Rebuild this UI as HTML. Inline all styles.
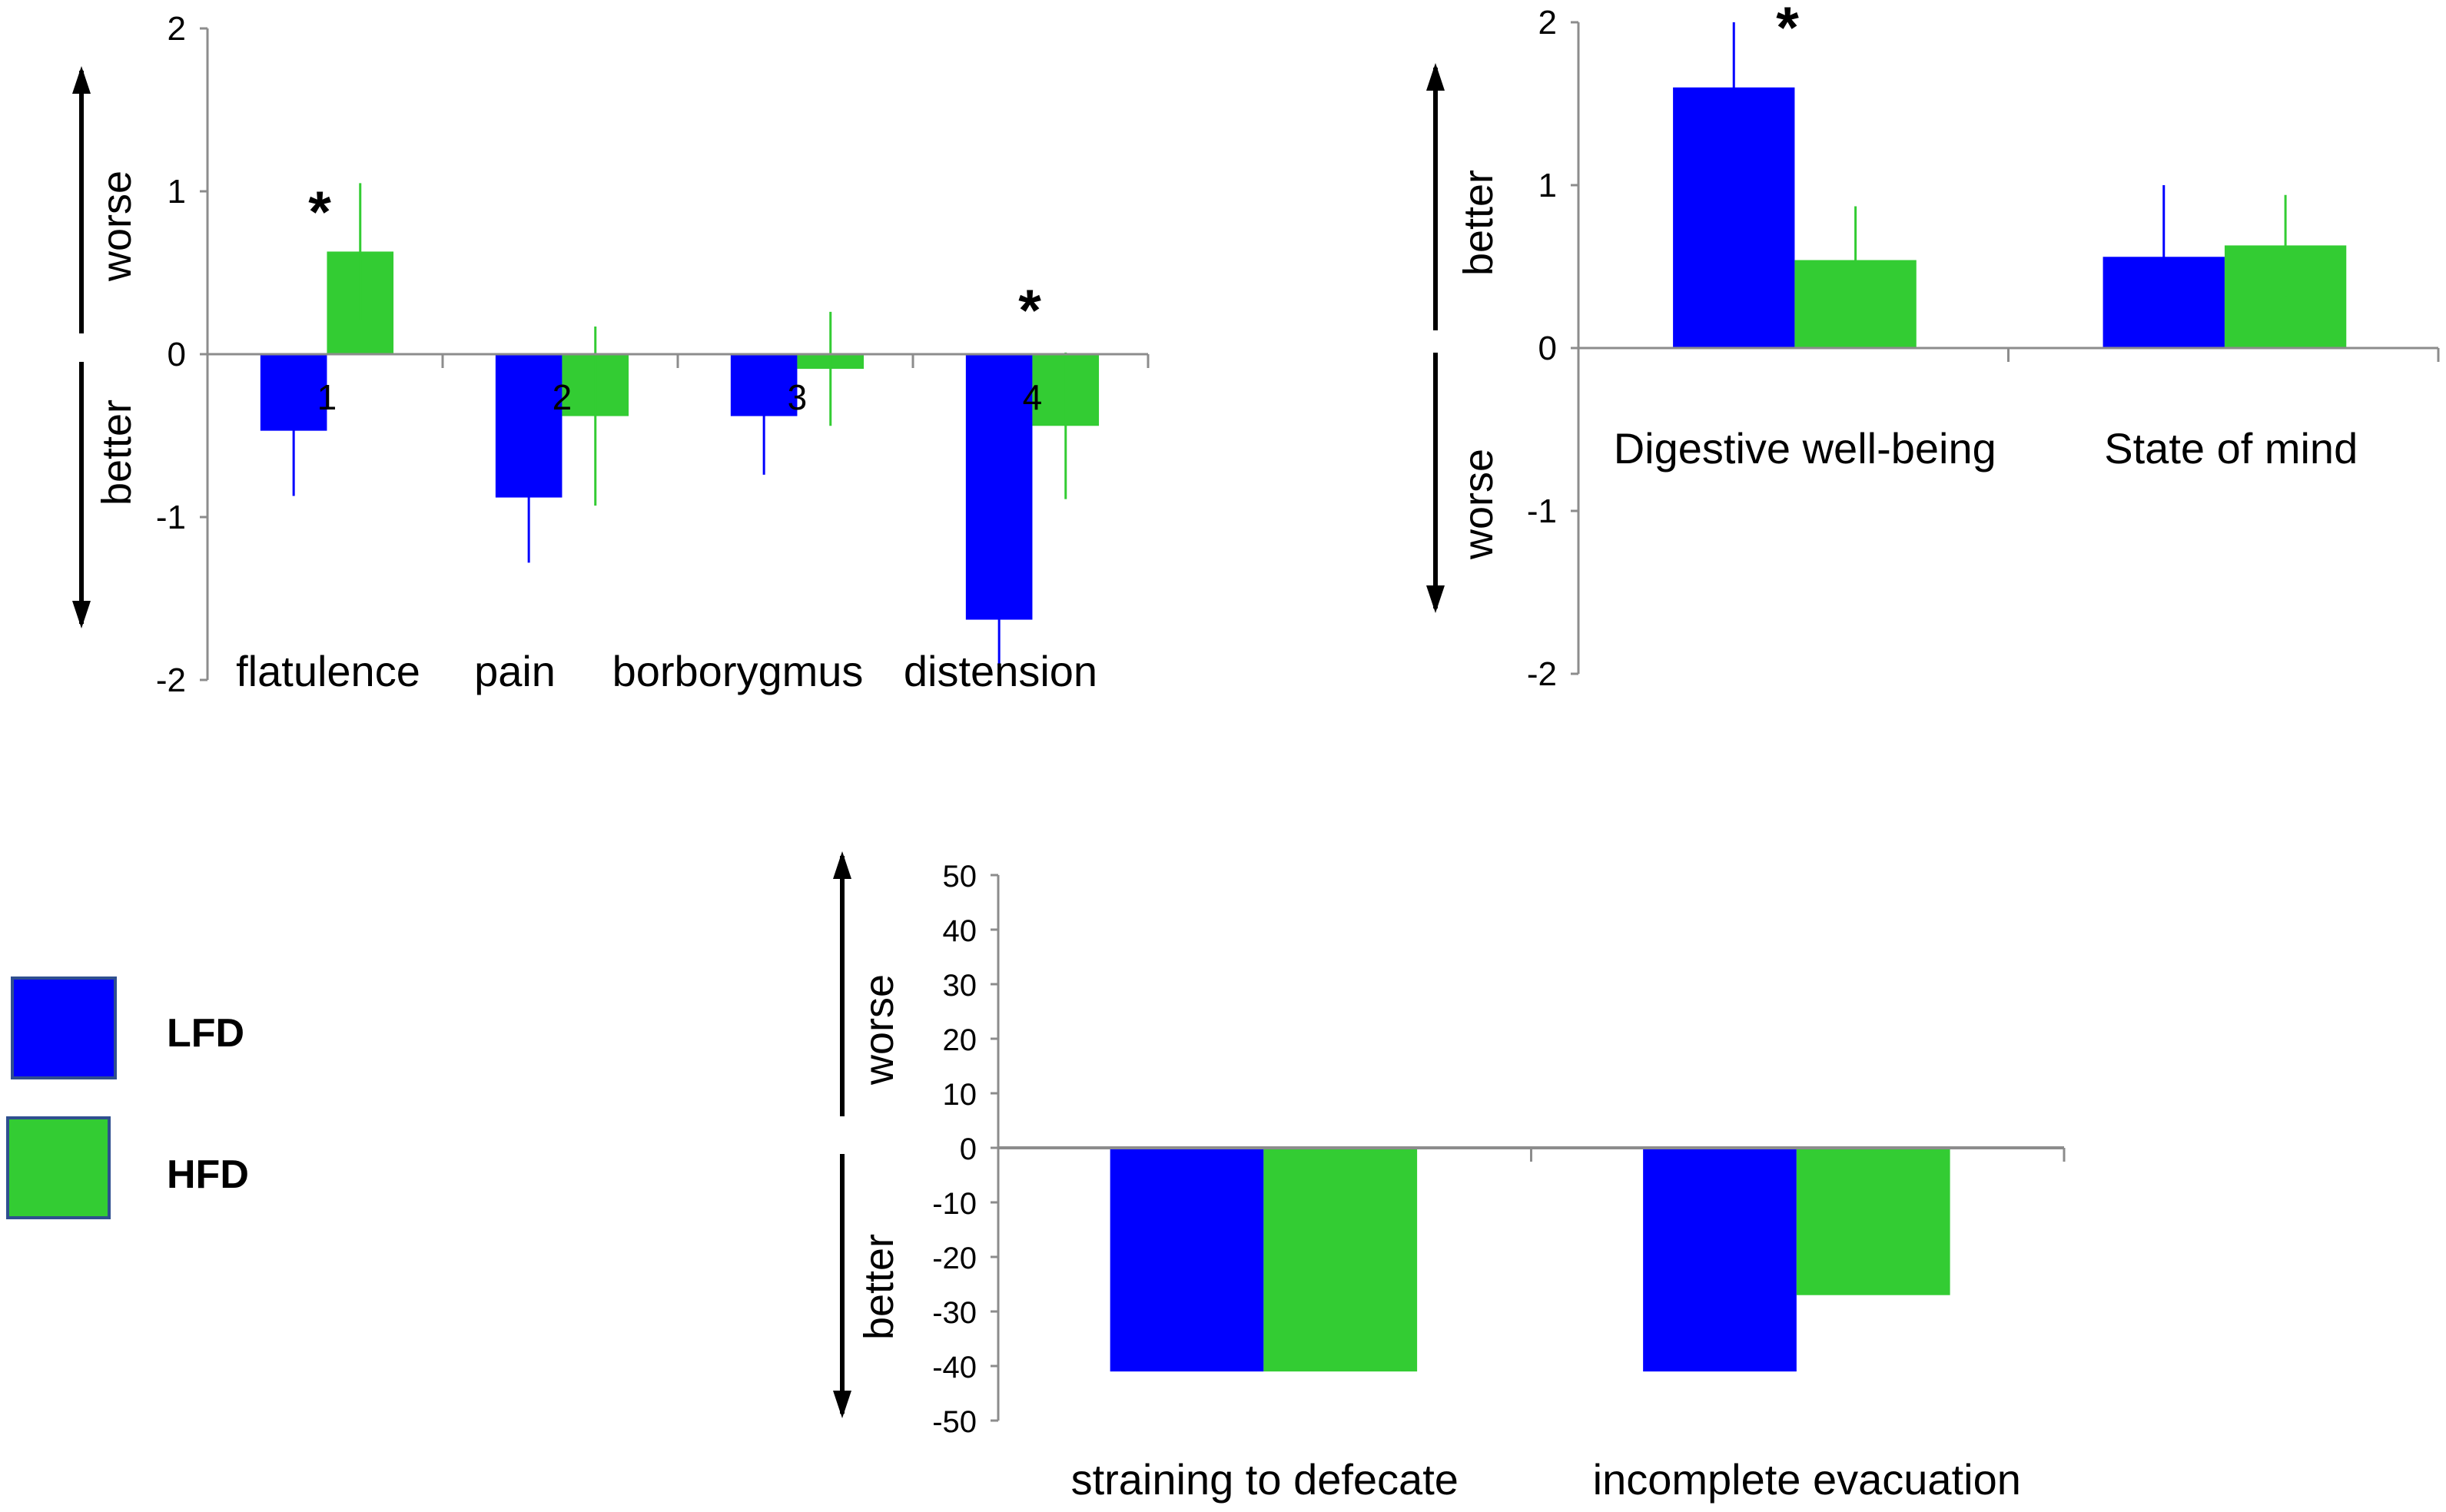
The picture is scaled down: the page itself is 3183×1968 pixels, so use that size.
<!DOCTYPE html>
<html><head><meta charset="utf-8">
<style>
html,body{margin:0;padding:0;background:#fff;}
svg{display:block;font-family:"Liberation Sans",Arial,sans-serif;}
</style></head>
<body>
<svg id="fig" width="3183" height="1968" viewBox="0 0 3183 1968" xmlns="http://www.w3.org/2000/svg">
<defs>
<marker id="ah" markerWidth="36" markerHeight="24" refX="30" refY="12" orient="auto" markerUnits="userSpaceOnUse" viewBox="0 0 36 24">
<path d="M0,0 L36,12 L0,24 z" fill="#000"/>
</marker>
</defs>
</svg>
<script>
// Chart 1 data
const c1Categories = ["flatulence","pain","borborygmus","distension"];
const c1Numbers = ["1","2","3","4"];
const c1LFD = [-0.47,-0.88,-0.38,-1.63];
const c1LFDErr = [0.40,0.40,0.36,0.37];
const c1HFD = [0.63,-0.38,-0.09,-0.44];
const c1HFDErr = [0.42,0.55,0.35,0.45];
const c1Ticks = [2,1,0,-1,-2];
// Chart 2 data
const c2Categories = ["Digestive well-being","State of mind"];
const c2LFD = [1.6,0.56];
const c2LFDErr = [0.40,0.44];
const c2HFD = [0.54,0.63];
const c2HFDErr = [0.33,0.31];
const c2Ticks = [2,1,0,-1,-2];
// Chart 3 data
const c3Categories = ["straining to defecate","incomplete evacuation"];
const c3LFD = [-41,-41];
const c3HFD = [-41,-27];
const c3Ticks = [50,40,30,20,10,0,-10,-20,-30,-40,-50];

const NS="http://www.w3.org/2000/svg";
const svg=document.getElementById('fig');
function mk(tag,attrs,parent){const e=document.createElementNS(NS,tag);for(const k in attrs)e.setAttribute(k,attrs[k]);(parent||svg).appendChild(e);return e;}
const BLUE="#0000ff",GREEN="#33cc33",AX="#8c8c8c";

function chart(o){
  const g=mk('g',{});
  
  
  const y=v=>o.y0-(v/o.step)*o.unit;
  const cw=(o.xEnd-o.x0)/o.cats.length;
  const ya=mk('line',{x1:o.x0,y1:y(o.ticks[0]),x2:o.x0,y2:y(o.ticks[o.ticks.length-1]),stroke:AX,'stroke-width':3},g);
  
  
  o.ticks.forEach(t=>{
    mk('line',{x1:o.x0-10,y1:y(t),x2:o.x0,y2:y(t),stroke:AX,'stroke-width':3},g);
    const tl=mk('text',{x:o.x0-28,y:y(t)+15,'text-anchor':'end','font-size':o.tickFont,fill:'#000'},g);
    tl.textContent=String(t);
    
    
  });
  o.cats.forEach((c,i)=>{
    const cx=o.x0+i*cw;
    const bx=cx+cw*o.off, bw=cw*o.bw;
    [[o.lfd,o.lfdErr,BLUE,'lfd'],[o.hfd,o.hfdErr,GREEN,'hfd']].forEach((s,k)=>{
      const v=s[0][i];const x=bx+k*bw;
      const r=mk('rect',{x:x,y:Math.min(y(0),y(v)),width:bw,height:Math.abs(y(v)-y(0)),fill:s[2]},g);
      
      
      if(s[1]){
        const e=s[1][i];
        const el=mk('line',{x1:x+bw/2,y1:y(v-e),x2:x+bw/2,y2:y(v+e),stroke:s[2],'stroke-width':3},g);
        
        
      }
    });
    const cl=mk('text',{x:cx+cw/2+(o.labDx?o.labDx[i]:0),y:o.labY,'text-anchor':'middle','font-size':o.labFont,fill:'#000'},g);
    cl.textContent=c;
    
    
    mk('line',{x1:cx+cw,y1:y(0),x2:cx+cw,y2:y(0)+18,stroke:AX,'stroke-width':3},g);
    if(o.nums){
      const nl=mk('text',{x:bx+bw,y:y(0)+72,'text-anchor':'middle','font-size':46,fill:'#000'},g);
      nl.textContent=o.nums[i];
      
      
    }
  });
  const xa=mk('line',{x1:o.x0,y1:y(0),x2:o.xEnd,y2:y(0),stroke:AX,'stroke-width':o.xw||3},g);
  
  
  o.arrows.forEach(a=>{
    const l=mk('line',{x1:o.ax,y1:a[0],x2:o.ax,y2:a[1],stroke:'#000','stroke-width':6,'marker-end':'url(#ah)'},g);
    
    
  });
  o.words.forEach(w=>{
    const t=mk('text',{x:0,y:0,transform:`translate(${o.wx},${w[1]}) rotate(-90)`,'text-anchor':'middle','font-size':54,fill:'#000'},g);
    t.textContent=w[0];
    
    
  });
  (o.stars||[]).forEach(s=>{
    const t=mk('text',{x:s[0],y:s[1]+40,'text-anchor':'middle','font-size':76,'font-weight':'bold',fill:'#000'},g);
    t.textContent='*';
    
    
  });
}

chart({name:'symptom-chart',x0:270,xEnd:1494,y0:461,unit:212,step:1,ticks:c1Ticks,cats:c1Categories,nums:c1Numbers,
  lfd:c1LFD,lfdErr:c1LFDErr,hfd:c1HFD,hfdErr:c1HFDErr,off:0.225,bw:0.283,tickFont:44,labY:893,labFont:56,
  labDx:[4,-59,-75,-39],
  ax:106,arrows:[[434,92],[471,812]],wx:170,words:[['worse',294],['better',589]],stars:[[416,262],[1340,390]]});
chart({name:'wellbeing-chart',x0:2054,xEnd:3173,y0:453,unit:212,step:1,ticks:c2Ticks,cats:c2Categories,
  lfd:c2LFD,lfdErr:c2LFDErr,hfd:c2HFD,hfdErr:c2HFDErr,off:0.22,bw:0.283,tickFont:44,labY:603,labFont:56,
  labDx:[15,10],
  ax:1868,arrows:[[430,88],[459,792]],wx:1942,words:[['better',290],['worse',656]],stars:[[2326,22]]});
chart({name:'defecation-chart',x0:1299,xEnd:2686,y0:1494,unit:71,step:10,ticks:c3Ticks,cats:c3Categories,
  lfd:c3LFD,lfdErr:null,hfd:c3HFD,hfdErr:null,off:0.21,bw:0.288,tickFont:40,labY:1945,labFont:56,xw:4,
  labDx:[0,12],
  ax:1096,arrows:[[1453,1114],[1502,1840]],wx:1162,words:[['worse',1340],['better',1675]]});

const lg=mk('g',{});


[[16,1273,134,130,BLUE,'LFD',1362],[10,1455,132,130,GREEN,'HFD',1546]].forEach(d=>{
  const r=mk('rect',{x:d[0],y:d[1],width:d[2],height:d[3],fill:d[4],stroke:'#2f4f8f','stroke-width':4},lg);
  
  
  const t=mk('text',{x:217,y:d[6],'font-size':52,'font-weight':'bold',fill:'#000'},lg);
  t.textContent=d[5];
  
  
});
</script>
</body></html>
